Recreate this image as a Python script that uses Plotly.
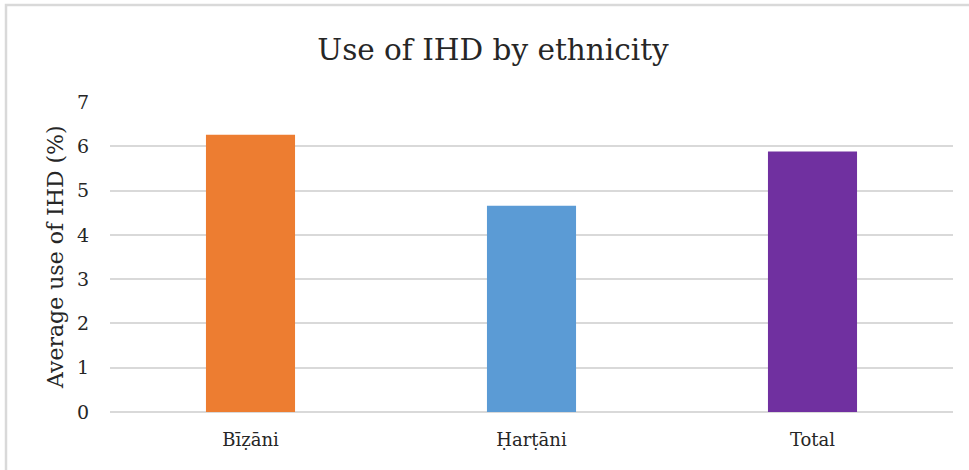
import plotly.graph_objects as go

categories = ["Bīẓāni", "Ḥarṭāni", "Total"]
values = [6.26, 4.66, 5.88]
colors = ["#ED7D31", "#5B9BD5", "#7030A0"]
y_ticks = [0, 1, 2, 3, 4, 5, 6, 7]

W, H = 969, 470
L, R, T, B = 110, 16, 102, 58
pw, ph = W - L - R, H - T - B

fig = go.Figure(go.Bar(
    x=categories, y=values, marker=dict(color=colors, line=dict(width=0)),
    width=0.317, hoverinfo="skip"))

serif = "DejaVu Serif"
fig.update_layout(
    width=W, height=H, margin=dict(l=L, r=R, t=T, b=B),
    paper_bgcolor="white", plot_bgcolor="white", showlegend=False,
    font=dict(family=serif, color="#404040"),
    title=dict(text="Use of IHD by ethnicity", x=(493) / W, xanchor="center",
               y=1 - 50 / H, yanchor="middle", font=dict(size=29.5, color="#262626", family=serif)),
    xaxis=dict(showgrid=False, showline=False, zeroline=False, ticks="",
               tickfont=dict(size=18, color="#262626", family=serif), ticklabelstandoff=15),
    yaxis=dict(range=[0, 7], tickvals=y_ticks, showgrid=True, gridcolor="#d9d9d9", gridwidth=1.5,
               zeroline=True, zerolinecolor="#d9d9d9", zerolinewidth=1.5, showline=False, ticks="",
               tickfont=dict(size=19, color="#262626", family=serif), ticklabelstandoff=20),
    annotations=[dict(text="Average use of IHD (%)", textangle=-90, xref="paper", yref="paper",
                      x=(55 - L) / pw, y=(H - B - 257) / ph, xanchor="center", yanchor="middle",
                      showarrow=False, font=dict(size=22, color="#262626", family=serif))],
    shapes=[dict(type="rect", xref="paper", yref="paper",
                 x0=(6 - L) / pw, x1=(W + 20 - L) / pw,
                 y0=(H - B - (H + 20)) / ph, y1=(H - B - 5) / ph,
                 line=dict(color="#d9d9d9", width=2.5), fillcolor="rgba(0,0,0,0)", layer="below")],
)
fig.write_html("out.html")
